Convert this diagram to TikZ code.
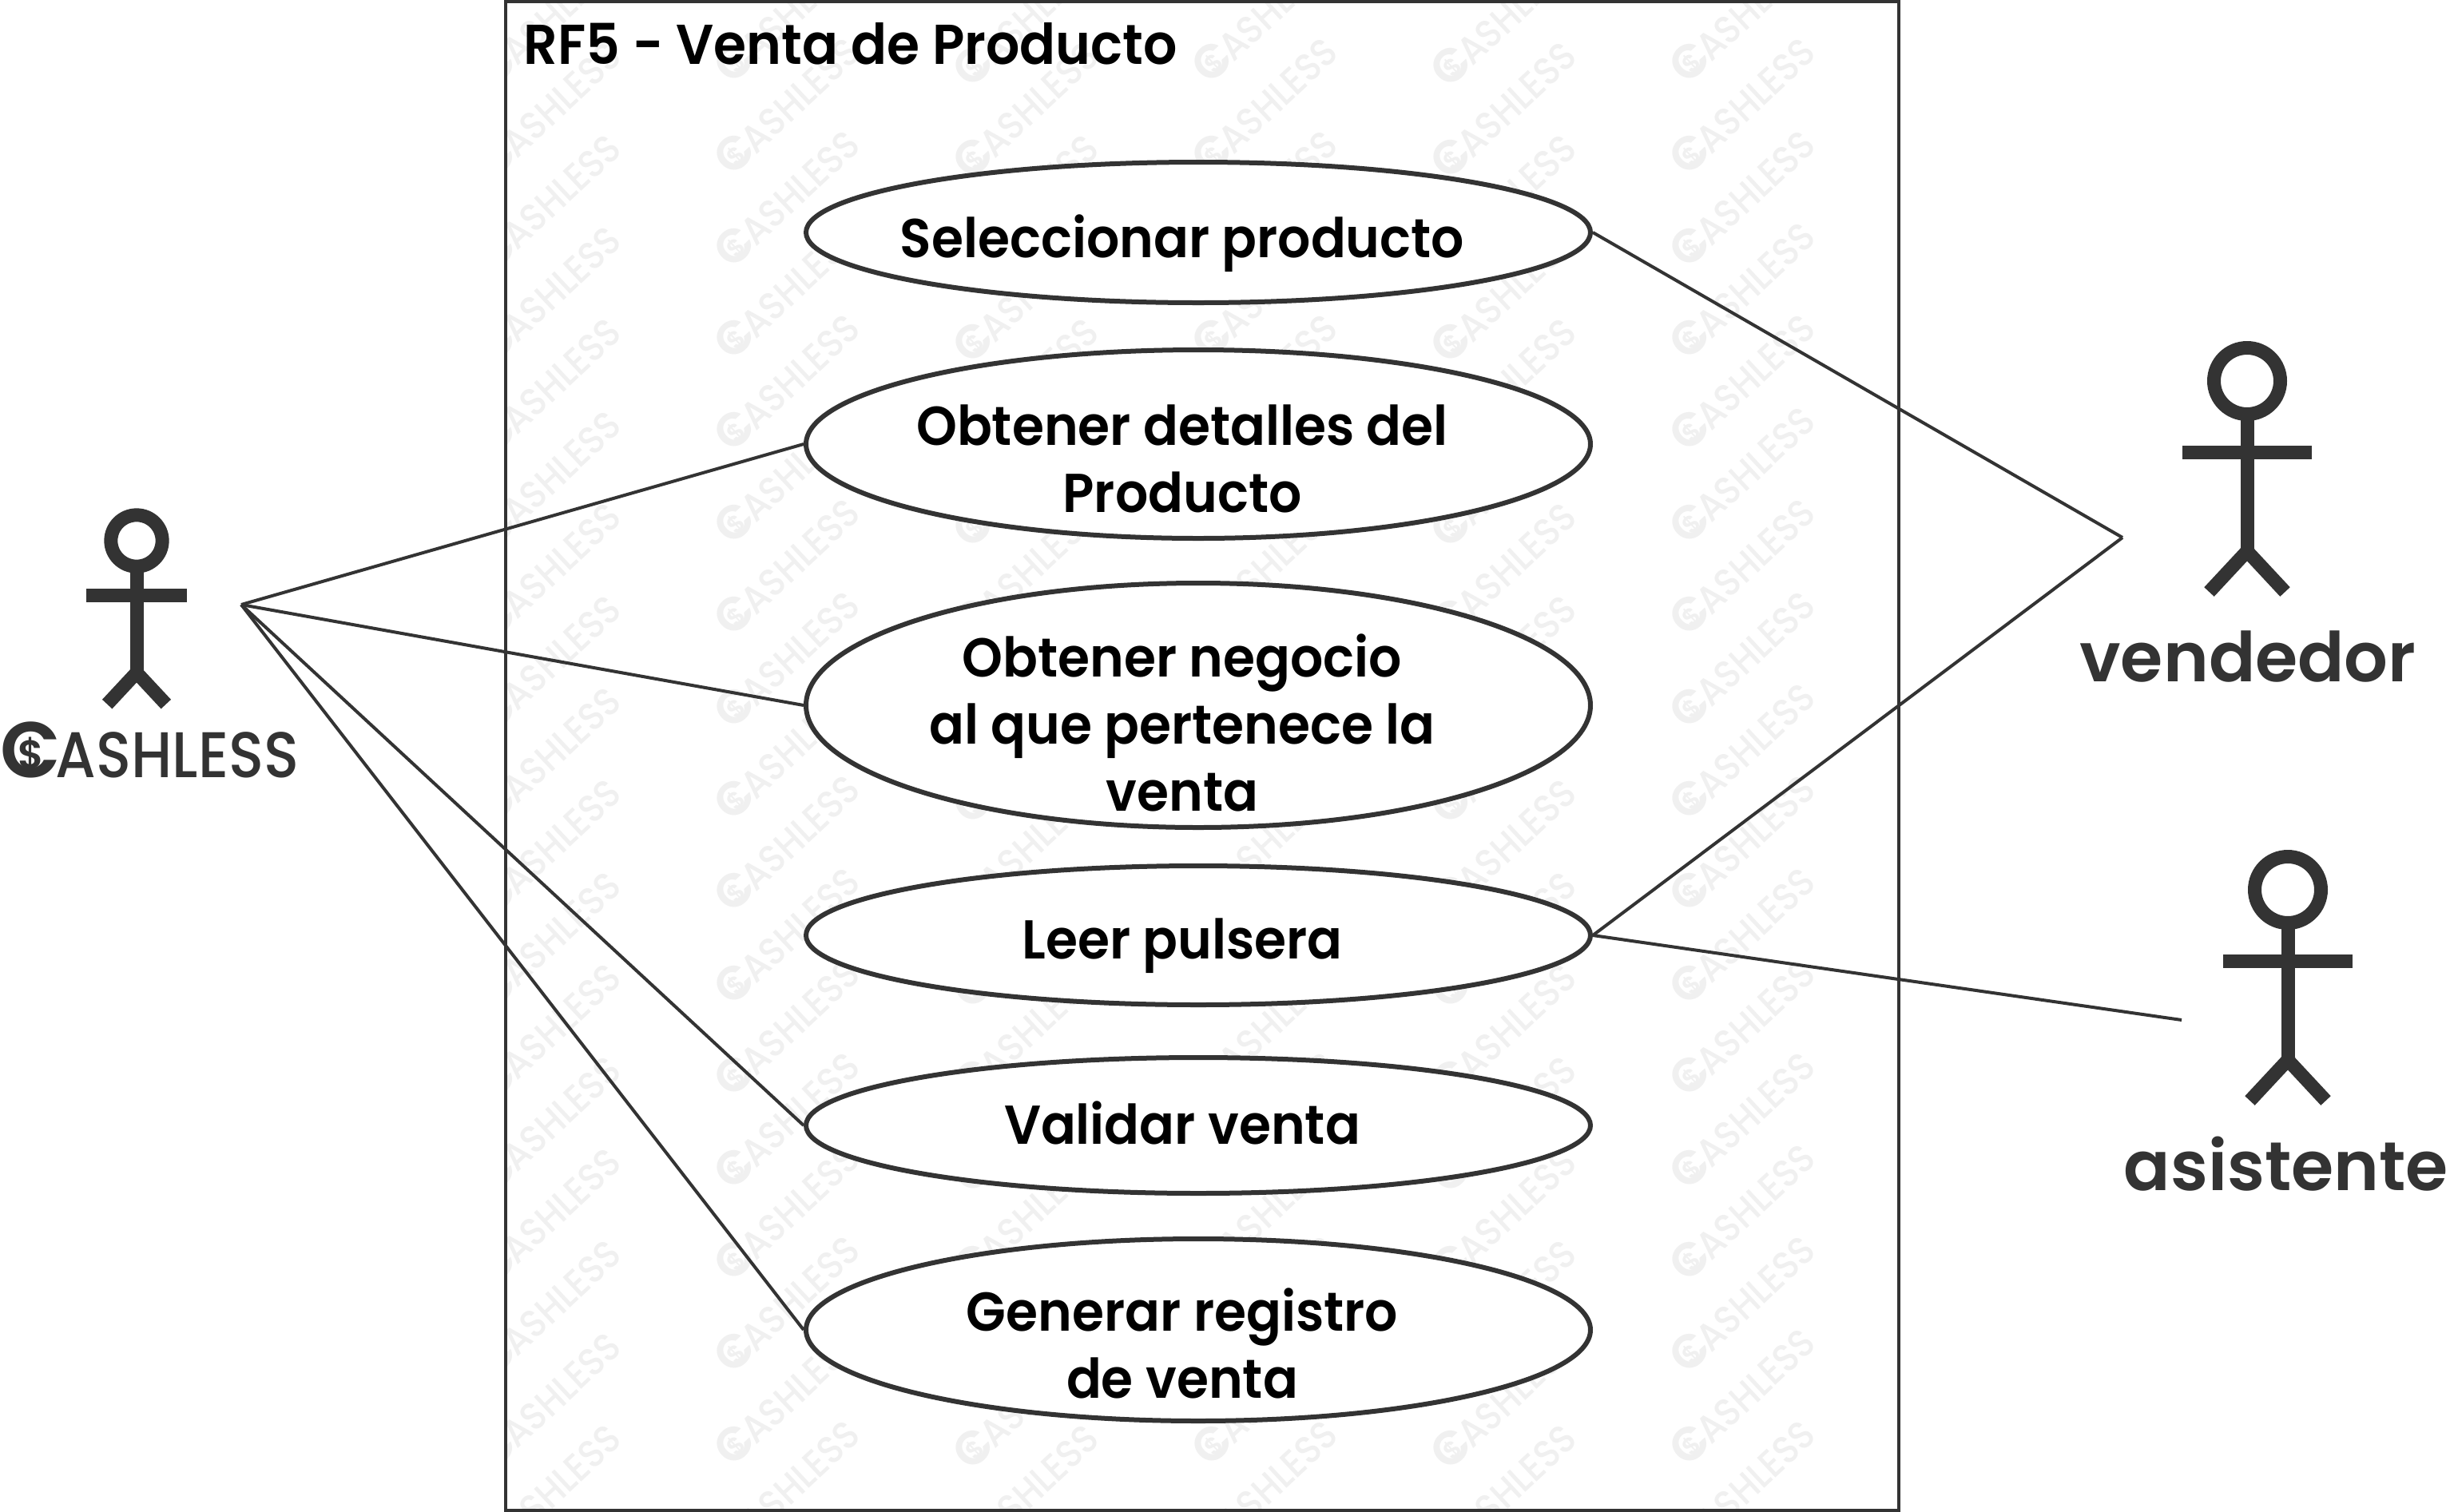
\documentclass[tikz,border=0pt]{standalone}
\usepackage{fontspec}
\setmainfont{Poppins}
\newfontfamily\casefont[FakeStretch=.945]{Poppins SemiBold}
\newfontfamily\namefont{Poppins SemiBold}
\newfontfamily\cashfont[FakeStretch=.90]{Poppins Medium}
\newfontfamily\cashcfont{Poppins SemiBold}
\usetikzlibrary{shapes.geometric,positioning,calc}
\definecolor{inkgray}{HTML}{333333}
\definecolor{markgray}{HTML}{F0F0F0}
\newcommand{\cashword}{\makebox[0pt][l]{\hspace{.27em}\raisebox{.13em}{\scalebox{.62}{\cashcfont\$}}}\scalebox{1.22}{\cashcfont C}\kern-.08em{\cashfont ASHLESS}}
\tikzset{
  usecase/.style={draw=inkgray,fill=white,ellipse,line width=.06cm,inner sep=0pt,minimum width=9.82cm},
  usetext/.style={align=center,text=black,font=\casefont\fontsize{19.5}{23.9}\selectfont},
  actorname/.style={text=inkgray,font=\namefont\fontsize{24.5}{28}\selectfont},
  assoc/.style={draw=inkgray,line width=.04cm},
  actor/.pic={
    \draw[inkgray,line width=.17cm] (0,0) circle[radius=.415];
    \draw[inkgray,line width=.17cm] (0,.415) -- (0,2.13);
    \draw[inkgray,line width=.17cm] (-.81,.89) -- (.81,.89);
    \draw[inkgray,line width=.17cm,miter limit=10] (-.475,2.64) -- (0,2.13) -- (.475,2.64);
  }
}
\begin{document}
\begin{tikzpicture}[x=1cm,y=-1cm]
  \useasboundingbox (0,0) rectangle (30.67,18.93);
  \fill[white] (0,0) rectangle (30.67,18.93);
  % faint marks behind the frame
  \begin{scope}
    \clip (6.33,.02) rectangle (23.77,18.91);
    \foreach \col in {0,...,5} {
      \foreach \row in {-2,...,15} {
        \pgfmathsetmacro{\markx}{6.85+2.99*\col}
        \pgfmathsetmacro{\marky}{1.31+1.154*\row+.05*(1-mod(\col,2))}
        \node[rotate=43,text=markgray,font=\fontsize{13.8}{15}\selectfont] (mark-\col-\row) at (\markx,\marky) {\cashword};
      }
    }
  \end{scope}
  \node[draw=inkgray,line width=.045cm,minimum width=17.44cm,minimum height=18.89cm,inner sep=0pt] (frame) at (15.05,9.465) {};
  \node[anchor=base west,inner sep=0pt,font=\casefont\fontsize{20}{24}\selectfont] (title) at (6.55,.80) {RF5 - Venta de Producto};

  \node[usecase,minimum height=1.76cm] (selec) at (15,2.91) {};
  \node[usecase,minimum height=2.36cm] (detal) at (15,5.56) {};
  \node[usecase,minimum height=3.06cm] (negoc) at (15,8.83) {};
  \node[usecase,minimum height=1.74cm] (leer) at (15,11.71) {};
  \node[usecase,minimum height=1.70cm] (valid) at (15,14.09) {};
  \node[usecase,minimum height=2.28cm] (regis) at (15,16.65) {};

  \node[usetext] (selectxt) at (14.80,3.05) {Seleccionar producto};
  \node[usetext] (detatxt) at (14.80,5.74) {Obtener detalles del\\Producto};
  \node[usetext] (negotxt) at (14.80,9.05) {Obtener negocio\\al que pertenece la\\venta};
  \node[usetext] (leertxt) at (14.80,11.84) {Leer pulsera};
  \node[usetext] (validtxt) at (14.80,14.06) {Validar venta};
  \node[usetext] (regitxt) at (14.80,16.82) {Generar registro\\de venta};

  % the three actors
  \pic[scale=.775] at (1.71,6.77) {actor};
  \pic at (28.13,4.77) {actor};
  \pic at (28.64,11.14) {actor};
  \node[anchor=base west,inner sep=0pt,text=inkgray,font=\fontsize{23}{27}\selectfont] (cash) at (0,9.73) {\cashword};
  \node[actorname,anchor=base,inner sep=0pt] (vend) at (28.14,8.53) {vendedor};
  \node[actorname,anchor=base,inner sep=0pt] (asis) at (28.62,14.90) {asistente};

  \coordinate (cashend) at (3.02,7.57);
  \coordinate (vendend) at (26.57,6.73);
  \coordinate (asisend) at (27.31,12.77);
  \draw[assoc] (cashend) -- (detal.west);
  \draw[assoc] (cashend) -- (negoc.west);
  \draw[assoc] (cashend) -- (valid.west);
  \draw[assoc] (cashend) -- (regis.west);
  \draw[assoc] (vendend) -- (selec.east);
  \draw[assoc] (vendend) -- (leer.east);
  \draw[assoc] (asisend) -- (leer.east);
\end{tikzpicture}
\end{document}
